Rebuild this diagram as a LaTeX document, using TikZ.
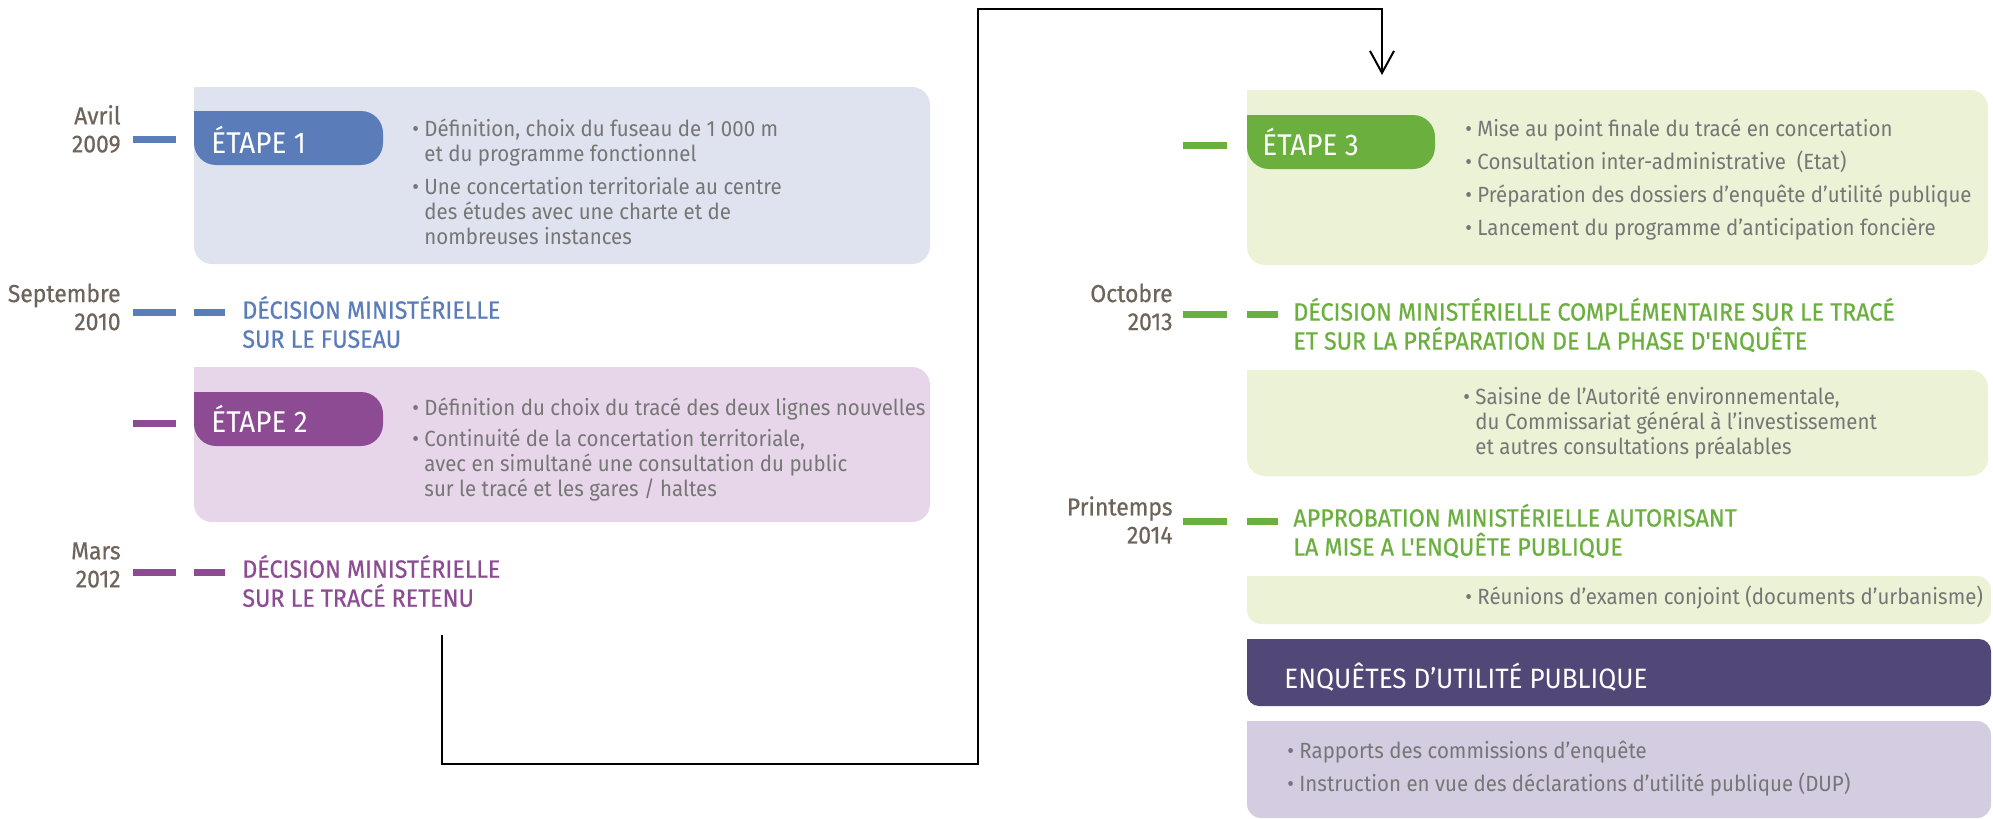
\documentclass[tikz,border=0pt]{standalone}
\usepackage{fontspec}
\setmainfont{Fira Sans}[FakeStretch=0.93]
\newfontfamily\demigras{Fira Sans}[FakeStretch=0.93, FakeBold=0.6]
\usetikzlibrary{arrows.meta}

\definecolor{bleu}{HTML}{5A7DB9}
\definecolor{bleuclair}{HTML}{DFE2EF}
\definecolor{violet}{HTML}{8C4B93}
\definecolor{violetclair}{HTML}{E7D6E9}
\definecolor{vert}{HTML}{6BAF3F}
\definecolor{vertclair}{HTML}{EBF2D5}
\definecolor{prune}{HTML}{524877}
\definecolor{lavande}{HTML}{D4CDE1}
\definecolor{datecol}{HTML}{6E645A}
\definecolor{textecol}{HTML}{767676}

\newcommand{\bul}{\textbullet\ }
\newcommand{\ind}{\hphantom{\textbullet\ }}

\tikzset{
  date/.style={anchor=east, align=right, text=datecol, inner sep=0pt,
    font=\demigras\fontsize{12.3}{14}\selectfont},
  puces/.style={anchor=west, align=left, text=textecol, inner sep=0pt,
    font=\fontsize{11}{12.5}\selectfont},
  decision/.style={anchor=west, align=left, inner sep=0pt,
    font=\demigras\fontsize{12.5}{14.5}\selectfont},
  etape/.style={anchor=west, text=white, inner sep=0pt,
    font=\fontsize{15}{16}\selectfont},
  tiret/.style={line width=3.5pt},
  lien/.style={line width=1pt, -{Straight Barb[length=11pt,width=12pt]}},
}

\begin{document}
\begin{tikzpicture}[x=0.5pt,y=-0.5pt]
\useasboundingbox (0,0) rectangle (1993,819);

%etape 1
\fill[bleuclair] (194,87) [rounded corners=9pt] -- (930,87) -- (930,264) -- (194,264) [sharp corners] -- cycle;
\fill[bleu] (194,111) [rounded corners=11pt] -- (383,111) -- (383,165) -- (194,165) [sharp corners] -- cycle;
\draw[tiret, bleu] (133,139) -- (176,139);
\node[date] (avril) at (121,129) {Avril\\2009};
\node[etape] (etape1) at (211,140) {ÉTAPE 1};
\node[puces] (puces1) at (412,182) {\bul Définition, choix du fuseau de 1 000 m\\
  \ind et du programme fonctionnel\\[4pt]
  \bul Une concertation territoriale au centre\\
  \ind des études avec une charte et de\\
  \ind nombreuses instances};

%decision 2010
\draw[tiret, bleu] (133,312) -- (176,312);
\draw[tiret, bleu] (194,312) -- (225,312);
\node[date] (sept) at (121,307) {Septembre\\2010};
\node[decision, text=bleu] (fuseau) at (242,322) {DÉCISION MINISTÉRIELLE\\SUR LE FUSEAU};

%etape 2
\fill[violetclair] (194,367) [rounded corners=9pt] -- (930,367) -- (930,522) -- (194,522) [sharp corners] -- cycle;
\fill[violet] (194,392) [rounded corners=11pt] -- (383,392) -- (383,446) -- (194,446) [sharp corners] -- cycle;
\draw[tiret, violet] (133,423) -- (176,423);
\node[etape] (etape2) at (211,419) {ÉTAPE 2};
\node[puces] (puces2) at (412,450) {\bul Définition du choix du tracé des deux lignes nouvelles\\[3pt]
  \bul Continuité de la concertation territoriale,\\
  \ind avec en simultané une consultation du public\\
  \ind sur le tracé et les gares / haltes};

%decision 2012
\draw[tiret, violet] (133,572) -- (176,572);
\draw[tiret, violet] (194,572) -- (225,572);
\node[date] (mars) at (121,565) {Mars\\2012};
\node[decision, text=violet] (retenu) at (242,581) {DÉCISION MINISTÉRIELLE\\SUR LE TRACÉ RETENU};

%etape 3
\fill[vertclair] (1247,90) [rounded corners=9pt] -- (1988,90) -- (1988,265) -- (1247,265) [sharp corners] -- cycle;
\fill[vert] (1247,115) [rounded corners=11pt] -- (1435,115) -- (1435,169) -- (1247,169) [sharp corners] -- cycle;
\draw[tiret, vert] (1183,145) -- (1227,145);
\node[etape] (etape3) at (1262,142) {ÉTAPE 3};
\node[puces] (puces3) at (1465,180) {\bul Mise au point finale du tracé en concertation\\[4pt]
  \bul Consultation inter-administrative~ (Etat)\\[4pt]
  \bul Préparation des dossiers d'enquête d'utilité publique\\[4pt]
  \bul Lancement du programme d'anticipation foncière};

%decision 2013
\draw[tiret, vert] (1183,314) -- (1227,314);
\draw[tiret, vert] (1247,314) -- (1278,314);
\node[date] (octobre) at (1173,307) {Octobre\\2013};
\node[decision, text=vert] (complement) at (1293,325) {DÉCISION MINISTÉRIELLE COMPLÉMENTAIRE SUR LE TRACÉ\\ET SUR LA PRÉPARATION DE LA PHASE D'ENQUÊTE};

\fill[vertclair] (1247,370) [rounded corners=9pt] -- (1988,370) -- (1988,476) -- (1247,476) [sharp corners] -- cycle;
\node[puces] (saisine) at (1463,423) {\bul Saisine de l'Autorité environnementale,\\
  \ind du Commissariat général à l'investissement\\
  \ind et autres consultations préalables};

%approbation 2014
\draw[tiret, vert] (1183,521) -- (1227,521);
\draw[tiret, vert] (1247,521) -- (1278,521);
\node[date] (printemps) at (1173,520) {Printemps\\2014};
\node[decision, text=vert] (approbation) at (1293,531) {APPROBATION MINISTÉRIELLE AUTORISANT\\LA MISE A L'ENQUÊTE PUBLIQUE};

\fill[vertclair] (1247,576) [rounded corners=7pt] -- (1991,576) -- (1991,624) -- (1247,624) [sharp corners] -- cycle;
\node[puces] (reunions) at (1465,598) {\bul Réunions d'examen conjoint (documents d'urbanisme)};

%enquetes
\fill[prune] (1247,639) [rounded corners=6pt] -- (1991,639) -- (1991,706) -- (1247,706) [sharp corners] -- cycle;
\node[etape, font=\fontsize{14}{16}\selectfont] (enquetes) at (1284,677) {ENQUÊTES D’UTILITÉ PUBLIQUE};
\fill[lavande] (1247,721) [rounded corners=7pt] -- (1991,721) -- (1991,818) -- (1247,818) [sharp corners] -- cycle;
\node[puces] (rapports) at (1287,769) {\bul Rapports des commissions d'enquête\\[4pt]
  \bul Instruction en vue des déclarations d'utilité publique (DUP)};

%lien
\coordinate (depart) at (442,635);
\coordinate (arrivee) at (1382,75);
\draw[lien] (depart) |- (978,764) |- (1382,9) -- (arrivee);
\end{tikzpicture}
\end{document}
